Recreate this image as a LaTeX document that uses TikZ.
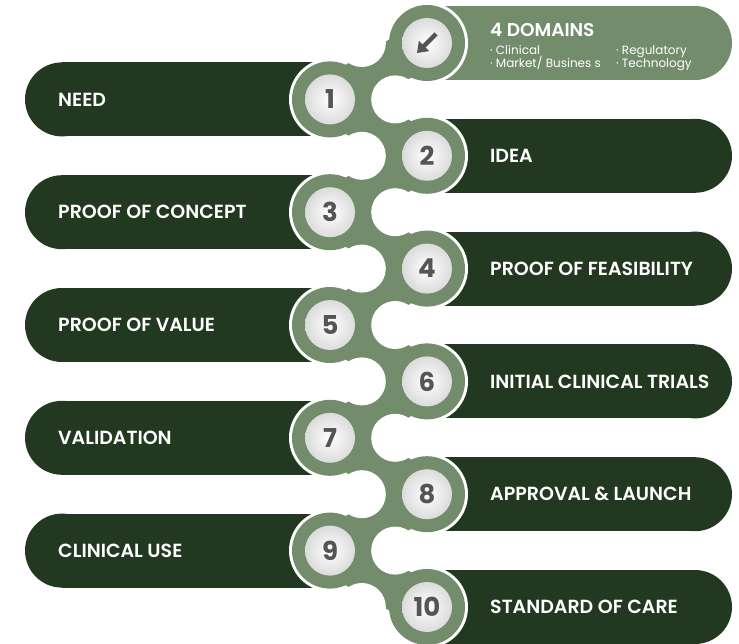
\documentclass[tikz,border=0pt]{standalone}
\usepackage{fontspec}
\setmainfont{Poppins}[BoldFont={Poppins SemiBold}]
\newfontfamily\numfont{Poppins Bold}
\usetikzlibrary{calc,arrows.meta}
\definecolor{dk}{RGB}{35,56,32}
\definecolor{lt}{RGB}{115,140,108}
\definecolor{num}{RGB}{85,85,85}
\begin{document}
\begin{tikzpicture}[x=1pt,y=-1pt,
  bartext/.style={text=white,font=\bfseries\fontsize{19}{22}\selectfont,anchor=west,inner sep=0pt},
  numtext/.style={text=num,font=\numfont\fontsize{26}{26}\selectfont},
  bullet/.style={text=white,font=\fontsize{12}{14}\selectfont,anchor=base west,inner sep=0pt},
  disc/.style={circle,minimum size=50pt,inner sep=0pt,inner color=white,outer color=black!14},
  band/.style={line join=round}]
\useasboundingbox (0,0) rectangle (739,644);
\foreach \k in {0,...,10}{
  \pgfmathsetmacro\py{43+56.4*\k}
  \pgfmathsetmacro\px{mod(\k,2)==0 ? 427 : 330}
  \coordinate (c\k) at (\px,\py);
}
% bars
\foreach \k in {1,3,5,7,9}{
  \fill[dk] ($(c\k)+(-268,-37)$) rectangle ($(c\k)+(0,37)$);
  \fill[dk] ($(c\k)+(-268,0)$) circle[radius=37];
}
\foreach \k/\col in {0/lt,2/dk,4/dk,6/dk,8/dk,10/dk}{
  \fill[\col] ($(c\k)+(0,-37)$) rectangle ($(c\k)+(268,37)$);
  \fill[\col] ($(c\k)+(268,0)$) circle[radius=37];
}
% chain
\draw[white,line width=50pt,band] (c0)--(c1)--(c2)--(c3)--(c4)--(c5)--(c6)--(c7)--(c8)--(c9)--(c10);
\foreach \k in {0,...,10} \fill[white] (c\k) circle[radius=41];
\draw[lt,line width=44pt,band] (c0)--(c1)--(c2)--(c3)--(c4)--(c5)--(c6)--(c7)--(c8)--(c9)--(c10);
\foreach \k in {0,...,10} \fill[lt] (c\k) circle[radius=38];
\foreach \k in {0,2,4,6,8,10} \fill[white] ($(c\k)+(-65.2,0)$) circle[radius=24];
\foreach \k in {1,3,5,7,9} \fill[white] ($(c\k)+(65.2,0)$) circle[radius=24];
% discs
\node[disc] (n0) at (c0) {};
\draw[num,line width=4.5pt,-{Triangle[length=10pt,width=14pt]}] ($(n0)+(9,-9)$) -- ($(n0)+(-10,10)$);
\foreach \k in {1,...,10} \node[disc,numtext] (n\k) at (c\k) {\k};
% labels
\node[bartext] (t1) at ($(c1)+(-272,0)$) {NEED};
\node[bartext] (t3) at ($(c3)+(-272,0)$) {PROOF OF CONCEPT};
\node[bartext] (t5) at ($(c5)+(-272,0)$) {PROOF OF VALUE};
\node[bartext] (t7) at ($(c7)+(-272,0)$) {VALIDATION};
\node[bartext] (t9) at ($(c9)+(-272,0)$) {CLINICAL USE};
\node[bartext] (t2) at ($(c2)+(63,0)$) {IDEA};
\node[bartext] (t4) at ($(c4)+(63,0)$) {PROOF OF FEASIBILITY};
\node[bartext] (t6) at ($(c6)+(63,0)$) {INITIAL CLINICAL TRIALS};
\node[bartext] (t8) at ($(c8)+(63,0)$) {APPROVAL \& LAUNCH};
\node[bartext] (t10) at ($(c10)+(63,0)$) {STANDARD OF CARE};
\node[bartext,anchor=base west,font=\bfseries\fontsize{18.5}{20}\selectfont] (t0) at (490,37) {4 DOMAINS};
\node[bullet] (b1) at (490,55) {· Clinical};
\node[bullet] (b2) at (490,67.5) {· Market/ Busines s};
\node[bullet] (b3) at (616,55) {· Regulatory};
\node[bullet] (b4) at (616,67.5) {· Technology};
\end{tikzpicture}
\end{document}
